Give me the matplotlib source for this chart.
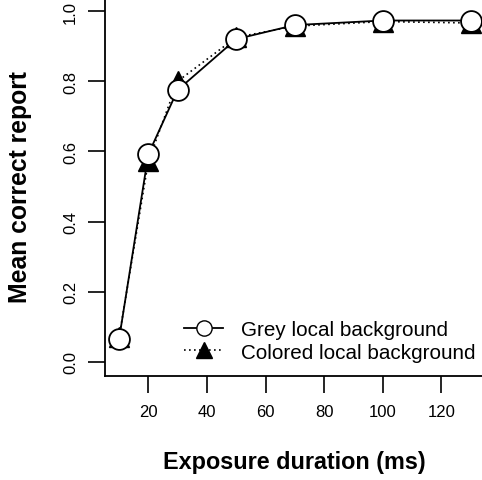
import matplotlib
matplotlib.use("Agg")
import matplotlib.pyplot as plt
from matplotlib.lines import Line2D

plt.rcParams['font.family'] = ['Liberation Sans', 'DejaVu Sans']

# exposure durations (ms) and mean correct report
durations = [10, 20, 30, 50, 70, 100, 130]
grey_bg = [0.065, 0.592, 0.775, 0.920, 0.960, 0.973, 0.973]
colored_bg = [0.070, 0.572, 0.800, 0.925, 0.957, 0.970, 0.966]
series_labels = ['Grey local background', 'Colored local background']
x_ticks = [20, 40, 60, 80, 100, 120]
y_ticks = [0.0, 0.2, 0.4, 0.6, 0.8, 1.0]

W, H = 482, 481
fig = plt.figure(figsize=(W / 100, H / 100), dpi=100)
# axes box in pixel terms (R-like layout)
left_px, right_px, bottom_px, top_px = 105, 484.6, 377, -2
ax = fig.add_axes([left_px / W, (H - bottom_px) / H,
                   (right_px - left_px) / W, (bottom_px - top_px) / H])

ax.plot(durations, colored_bg, color='black', linestyle=(0, (1, 2)), lw=1.2,
        marker='^', markersize=14, markerfacecolor='black', markeredgecolor='black',
        zorder=2)
ax.plot(durations, grey_bg, color='black', linestyle='-', lw=1.3,
        marker='o', markersize=15, markerfacecolor='white', markeredgecolor='black',
        markeredgewidth=1.3, zorder=3)

ax.set_xlim(5.2, 134.8)
ax.set_ylim(-0.04, 1.04)
ax.set_xticks(x_ticks)
ax.set_yticks(y_ticks)
ax.set_yticklabels([f'{v:.1f}' for v in y_ticks], rotation=90, va='center')
ax.tick_params(axis='both', direction='out', length=12.5, width=1.2,
               labelsize=12, color='black')
ax.tick_params(axis='x', pad=8)
ax.tick_params(axis='y', pad=7)

for s in ['top', 'right']:
    ax.spines[s].set_visible(False)
for s in ['left', 'bottom']:
    ax.spines[s].set_linewidth(1.3)

ax.set_xlabel('Exposure duration (ms)', fontsize=16.8, fontweight='bold', labelpad=22)
ax.set_ylabel('Mean correct report', fontsize=17.8, fontweight='bold', labelpad=22)

handles = [
    Line2D([], [], color='black', lw=1.3, marker='o', markersize=11,
           markerfacecolor='white', markeredgecolor='black'),
    Line2D([], [], color='black', lw=1.2, linestyle=(0, (1, 2)), marker='^',
           markersize=12, markerfacecolor='black', markeredgecolor='black'),
]
ax.legend(handles, series_labels, loc='upper left', frameon=False, borderpad=0,
          fontsize=14.9, handlelength=1.9, handletextpad=0.85, labelspacing=0.15,
          bbox_to_anchor=(0.181, 0.174))

fig.savefig('out.png', dpi=100)
